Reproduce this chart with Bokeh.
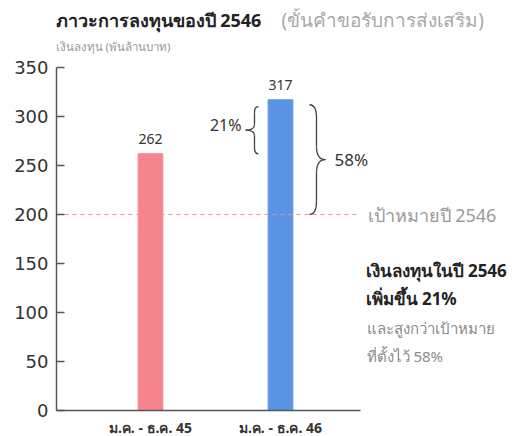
from bokeh.plotting import figure
from bokeh.models import Label, ColumnDataSource, FixedTicker, Range1d
from bokeh.core.properties import value
from bokeh.embed import file_html
from bokeh.resources import INLINE

# ---- data ----
categories = ["ม.ค. - ธ.ค. 45", "ม.ค. - ธ.ค. 46"]
investment = [262, 317]
bar_colors = ["#f7858f", "#5b94e3"]
target = 200
y_ticks = [0, 50, 100, 150, 200, 250, 300, 350]
title_bold = "ภาวะการลงทุนของปี 2546"
title_light = "(ขั้นคำขอรับการส่งเสริม)"
y_title = "เงินลงทุน (พันล้านบาท)"
target_label = "เป้าหมายปี 2546"
growth_label = "21%"
over_target_label = "58%"
note_bold = ["เงินลงทุนในปี 2546", "เพิ่มขึ้น 21%"]
note_light = ["และสูงกว่าเป้าหมาย", "ที่ตั้งไว้ 58%"]

FONT = "Noto Sans"
NUMFONT = "DejaVu Sans"

xs = [i + 1 for i in range(len(categories))]


# page pixel -> data helpers (layout only)
def X(px):
    return 1 + (px - 150) / 130.0


def Y(py):
    return (410 - py) / 0.98


p = figure(frame_width=456, frame_height=402, output_backend="svg", toolbar_location=None,
           x_range=Range1d(X(56), X(512)), y_range=Range1d(0, Y(8)),
           min_border_left=56, min_border_right=0, min_border_top=8,
           min_border_bottom=22)
p.outline_line_color = None
p.grid.grid_line_color = None
p.background_fill_color = "white"

src = ColumnDataSource(dict(x=xs, top=investment, color=bar_colors,
                            label=[str(v) for v in investment]))
p.vbar(x="x", top="top", width=0.19, color="color", source=src)
p.text(x="x", y="top", text="label", source=src, text_align="center",
       text_baseline="bottom", y_offset=-10, text_font_size="14px",
       text_color="#333333", text_font=value(FONT))

# target line
p.segment(x0=[X(56)], y0=[target], x1=[X(356)], y1=[target], line_color="#ee8e98",
          line_dash="4 4", line_width=1)

# axes
p.yaxis.bounds = (y_ticks[0], y_ticks[-1])
p.yaxis.ticker = FixedTicker(ticks=y_ticks)
p.yaxis.major_tick_in = 8
p.yaxis.major_tick_out = 0
p.yaxis.minor_tick_line_color = None
p.yaxis.axis_line_color = "#555555"
p.yaxis.axis_line_width = 1.5
p.yaxis.major_tick_line_color = "#555555"
p.yaxis.major_tick_line_width = 1.5
p.yaxis.major_label_text_font_size = "18px"
p.yaxis.major_label_text_color = "#333333"
p.yaxis.major_label_text_font = NUMFONT
p.yaxis.major_label_standoff = 8

p.xaxis.bounds = (X(56), X(360))
p.xaxis.ticker = FixedTicker(ticks=xs)
p.xaxis.major_label_overrides = {x: c for x, c in zip(xs, categories)}
p.xaxis.major_tick_line_color = None
p.xaxis.minor_tick_line_color = None
p.xaxis.axis_line_color = "#555555"
p.xaxis.axis_line_width = 1.5
p.xaxis.major_label_text_font_size = "14px"
p.xaxis.major_label_text_font_style = "bold"
p.xaxis.major_label_text_color = "#333333"
p.xaxis.major_label_text_font = FONT
p.xaxis.major_label_standoff = 1
p.xaxis.axis_label_standoff = 0


# braces drawn from the data values
def brace(y_lo, y_hi, x_body, x_tip, x_end):
    ym = (y_lo + y_hi) / 2
    h = (y_hi - y_lo) * 0.12
    q = dict(x0=[], y0=[], x1=[], y1=[], cx=[], cy=[])
    segs = [
        ((x_end, y_hi), (x_body, y_hi - h), (x_body, y_hi)),
        ((x_body, ym + h), (x_tip, ym), (x_body, ym)),
        ((x_tip, ym), (x_body, ym - h), (x_body, ym)),
        ((x_body, y_lo + h), (x_end, y_lo), (x_body, y_lo)),
    ]
    for (a, b, c) in segs:
        q["x0"].append(a[0]); q["y0"].append(a[1])
        q["x1"].append(b[0]); q["y1"].append(b[1])
        q["cx"].append(c[0]); q["cy"].append(c[1])
    p.quadratic(x0="x0", y0="y0", x1="x1", y1="y1", cx="cx", cy="cy",
                source=ColumnDataSource(q), line_color="#444444", line_width=1.3)
    p.segment(x0=[x_body, x_body], y0=[y_hi - h, ym - h], x1=[x_body, x_body],
              y1=[ym + h, y_lo + h], line_color="#444444", line_width=1.3)


brace(investment[0], investment[1] - 7, X(254), X(245), X(258))
brace(target, investment[1] - 5, X(316), X(325), X(309))

lbl = dict(text_font=FONT)
p.add_layout(Label(x=X(241), y=(investment[0] + investment[1]) / 2 + 2, text=growth_label,
                   text_align="right", text_baseline="middle", text_font_size="16px",
                   text_color="#333333", **lbl))
p.add_layout(Label(x=X(334), y=(target + investment[1]) / 2 - 2, text=over_target_label,
                   text_align="left", text_baseline="middle", text_font_size="17px",
                   text_color="#333333", **lbl))
p.add_layout(Label(x=X(367), y=target, text=target_label, text_align="left",
                   text_baseline="middle", text_font_size="18px", text_color="#9a9a9a", **lbl))

# titles
p.add_layout(Label(x=X(55), y=Y(19), text=title_bold, text_align="left",
                   text_baseline="middle", text_font_size="18px", text_font_style="bold",
                   text_color="#222222", **lbl))
p.add_layout(Label(x=X(281), y=Y(19), text=title_light, text_align="left",
                   text_baseline="middle", text_font_size="19px",
                   text_color="#a8a8a8", **lbl))
p.add_layout(Label(x=X(55), y=Y(46), text=y_title, text_align="left",
                   text_baseline="middle", text_font_size="11.5px",
                   text_color="#999999", **lbl))

# side note
for i, t in enumerate(note_bold):
    p.add_layout(Label(x=X(365), y=Y(270 + 28 * i), text=t, text_align="left",
                       text_baseline="middle", text_font_size="17px", text_font_style="bold",
                       text_color="#222222", **lbl))
for i, t in enumerate(note_light):
    p.add_layout(Label(x=X(366), y=Y(327 + 28 * i), text=t, text_align="left",
                       text_baseline="middle", text_font_size="15px",
                       text_color="#8a8a8a", **lbl))

open("out.html", "w").write(file_html(p, INLINE))
